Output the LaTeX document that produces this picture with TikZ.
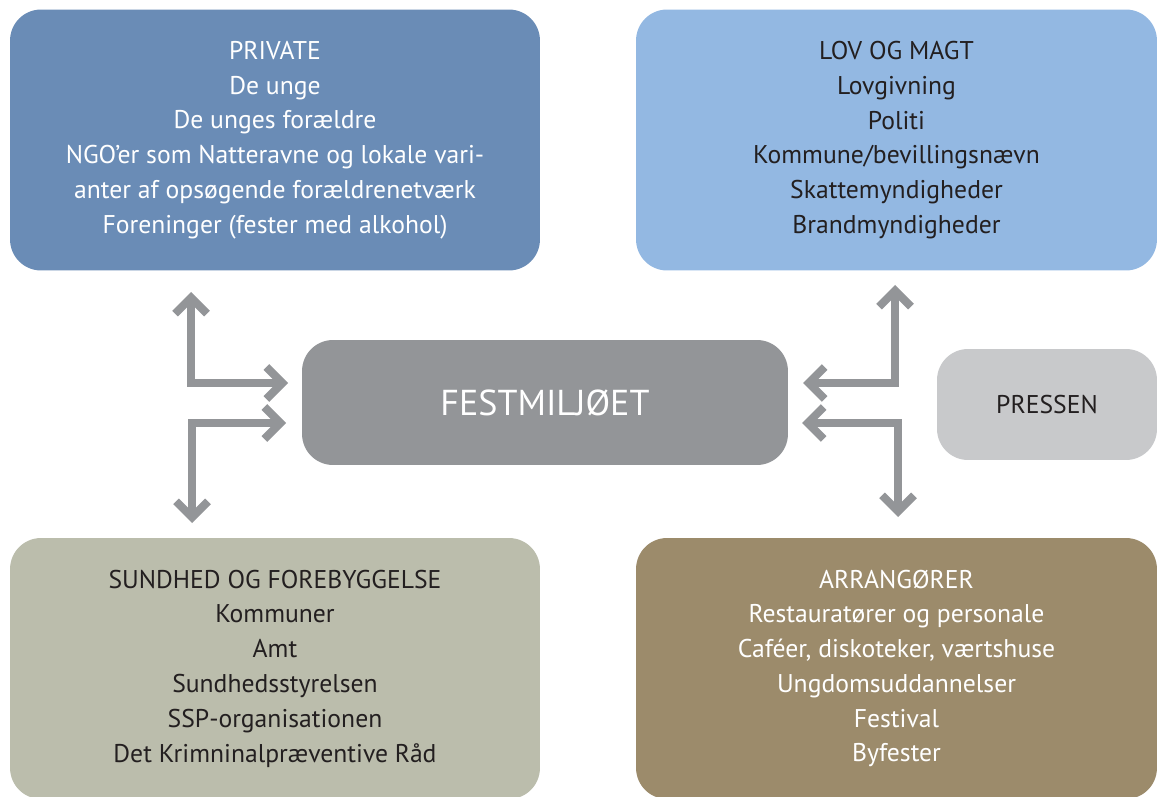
\documentclass[tikz,border=0pt]{standalone}
\usepackage{fontspec}
\setmainfont{PT Sans}
\usetikzlibrary{arrows.meta}
\definecolor{privblue}{HTML}{6A8CB6}
\definecolor{lovblue}{HTML}{93B8E2}
\definecolor{festgray}{HTML}{939598}
\definecolor{pressgray}{HTML}{C8C9CB}
\definecolor{sundgreen}{HTML}{BBBDAC}
\definecolor{arrbrown}{HTML}{9C8B6B}
\definecolor{inkdark}{HTML}{231F20}
\tikzset{
	box/.style={rounded corners=0.62cm, align=center, inner sep=0pt,
		font=\fontsize{14.6}{19.8}\selectfont},
	bigbox/.style={box, minimum width=10.6cm, minimum height=5.22cm},
	rbox/.style={box, minimum width=10.42cm, minimum height=5.22cm},
	chev/.tip={Straight Barb[length=0.32cm, width=0.64cm, line width=0pt 1]},
	twoway/.style={draw=festgray, line width=0.16cm, chev-chev}
}

\begin{document}
\begin{tikzpicture}[x=0.02cm, y=-0.02cm]
	%%%%% START %%%%%
	\useasboundingbox (0, 0) rectangle (1157, 797);
	
	\node[bigbox, fill=privblue, text=white] (priv) at (275, 140)
		{PRIVATE\\De unge\\De unges forældre\\NGO’er som Natteravne og lokale vari-\\anter af opsøgende forældrenetværk\\Foreninger (fester med alkohol)};
	\node[rbox, fill=lovblue, text=inkdark] (lov) at (896.5, 140)
		{LOV OG MAGT\\Lovgivning\\Politi\\Kommune/bevillingsnævn\\Skattemyndigheder\\Brandmyndigheder};
	
	\node[box, fill=festgray, text=white, minimum width=9.72cm, minimum height=2.5cm,
		font=\fontsize{20.5}{24}\selectfont] (fest) at (545, 402.5) {FESTMILJØET};
	\node[box, fill=pressgray, text=inkdark, minimum width=4.4cm, minimum height=2.22cm] (press) at (1047, 404.5) {PRESSEN};
	
	\node[bigbox, fill=sundgreen, text=inkdark] (sund) at (275, 668.5)
		{SUNDHED OG FOREBYGGELSE\\Kommuner\\Amt\\Sundhedsstyrelsen\\SSP-organisationen\\Det Krimninalpræventive Råd};
	\node[rbox, fill=arrbrown, text=white] (arr) at (896.5, 668.5)
		{ARRANGØRER\\Restauratører og personale\\Caféer, diskoteker, værtshuse\\Ungdomsuddannelser\\Festival\\Byfester};
	
	% arrows left
	\coordinate (lu) at (191, 292);
	\coordinate (lucorner) at (191, 383);
	\coordinate (lur) at (288, 383);
	\coordinate (ld) at (192, 523);
	\coordinate (ldcorner) at (192, 423);
	\coordinate (ldr) at (286, 423);
	\draw[twoway] (lu) -- (lucorner) -- (lur);
	\draw[twoway] (ldr) -- (ldcorner) -- (ld);
	
	% arrows right
	\coordinate (ru) at (895, 285);
	\coordinate (rucorner) at (895, 383);
	\coordinate (rul) at (803, 383);
	\coordinate (rd) at (898, 517);
	\coordinate (rdcorner) at (898, 423);
	\coordinate (rdl) at (802, 423);
	\draw[twoway] (ru) -- (rucorner) -- (rul);
	\draw[twoway] (rdl) -- (rdcorner) -- (rd);
	%%%%% END %%%%%
\end{tikzpicture}
\end{document}
